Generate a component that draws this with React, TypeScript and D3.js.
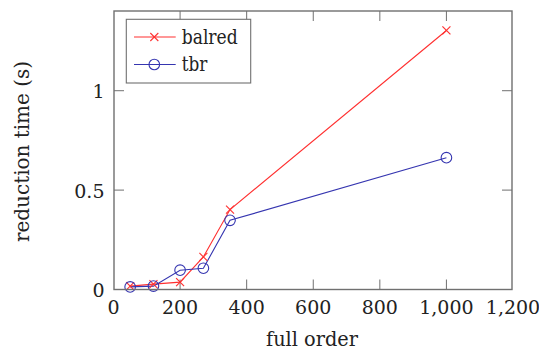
import React from "react";
import * as d3 from "d3";

const xs = [50, 120, 200, 270, 350, 1000];
const balred = [0.017, 0.027, 0.037, 0.164, 0.402, 1.303];
const tbr = [0.013, 0.017, 0.097, 0.107, 0.348, 0.663];
const xTicks = [0, 200, 400, 600, 800, 1000, 1200];
const yTicks = [0, 0.5, 1];
const seriesNames = ["balred", "tbr"];

const W = 539, H = 352;
const L = 114, R = 512, T = 11, B = 289.5;
const RED = "#ff3030";
const BLUE = "#3535b0";
const FRAME = "#707070";
const FONT = "DejaVu Serif, Liberation Serif, serif";

export default function App() {
  const x = d3.scaleLinear().domain([0, 1200]).range([L - 0.5, R + 1]);
  const y = d3.scaleLinear().domain([0, 1.4]).range([B, T + 0.2]);
  const line = d3.line<[number, number]>().x(d => x(d[0])).y(d => y(d[1]));
  const bData = xs.map((v, i) => [v, balred[i]] as [number, number]);
  const tData = xs.map((v, i) => [v, tbr[i]] as [number, number]);
  const fmt = d3.format(",");
  const cross = (cx: number, cy: number, c: string, k: string) => (
    <g key={k} stroke={c} strokeWidth={1.1}>
      <line x1={cx - 4} y1={cy - 4} x2={cx + 4} y2={cy + 4} />
      <line x1={cx - 4} y1={cy + 4} x2={cx + 4} y2={cy - 4} />
    </g>
  );
  const circ = (cx: number, cy: number, c: string, k: string) => (
    <circle key={k} cx={cx} cy={cy} r={5.3} fill="none" stroke={c} strokeWidth={1.1} />
  );
  const tickLen = 10;
  const ts = { fontFamily: FONT };
  return (
    <svg width={W} height={H} style={{ position: "absolute", left: 0, top: 0 }}>
      <rect width={W} height={H} fill="white" />
      {xTicks.filter(t => t > 0 && t < 1200).map(t => (
        <g key={"xt" + t} stroke={FRAME} strokeWidth={1}>
          <line x1={x(t)} x2={x(t)} y1={B} y2={B - tickLen} />
          <line x1={x(t)} x2={x(t)} y1={T} y2={T + tickLen} />
        </g>
      ))}
      {yTicks.filter(t => t > 0).map(t => (
        <g key={"yt" + t} stroke={FRAME} strokeWidth={1}>
          <line x1={L} x2={L + tickLen} y1={y(t)} y2={y(t)} />
          <line x1={R} x2={R - tickLen} y1={y(t)} y2={y(t)} />
        </g>
      ))}
      <path d={line(bData) || ""} fill="none" stroke={RED} strokeWidth={1.1} />
      <path d={line(tData) || ""} fill="none" stroke={BLUE} strokeWidth={1.1} />
      {bData.map((d, i) => cross(x(d[0]), y(d[1]), RED, "b" + i))}
      {tData.map((d, i) => circ(x(d[0]), y(d[1]), BLUE, "t" + i))}
      <rect x={L} y={T} width={R - L} height={B - T} fill="none" stroke={FRAME} strokeWidth={1.4} />
      {xTicks.map(t => (
        <text key={"xl" + t} x={x(t)} y={313.5} fontSize={19} textAnchor="middle" fill="#222" style={ts}>{fmt(t)}</text>
      ))}
      {yTicks.map(t => (
        <text key={"yl" + t} x={104.5} y={y(t) + 7.5} fontSize={19} textAnchor="end" fill="#222" style={ts}>{String(t)}</text>
      ))}
      <text x={312} y={346} fontSize={20} textAnchor="middle" fill="#222" textLength={92} lengthAdjust="spacingAndGlyphs" style={ts}>full order</text>
      <text transform={`translate(29,151.5) rotate(-90)`} fontSize={20} textAnchor="middle" fill="#222" textLength={181} lengthAdjust="spacingAndGlyphs" style={ts}>reduction time (s)</text>
      <rect x={126.3} y={19.3} width={124.4} height={63.7} fill="white" stroke={FRAME} strokeWidth={1.1} />
      {seriesNames.map((n, i) => {
        const ly = 37 + i * 27.5;
        const c = i === 0 ? RED : BLUE;
        return (
          <g key={"lg" + n}>
            <line x1={134} x2={175.7} y1={ly} y2={ly} stroke={c} strokeWidth={1.1} />
            {i === 0 ? cross(154.3, ly, c, "lc") : circ(154.3, ly, c, "lc")}
            <text x={181.7} y={ly + 6.5} fontSize={20} fill="#222" textLength={i === 0 ? 56 : 25.6} lengthAdjust="spacingAndGlyphs" style={ts}>{n}</text>
          </g>
        );
      })}
    </svg>
  );
}
